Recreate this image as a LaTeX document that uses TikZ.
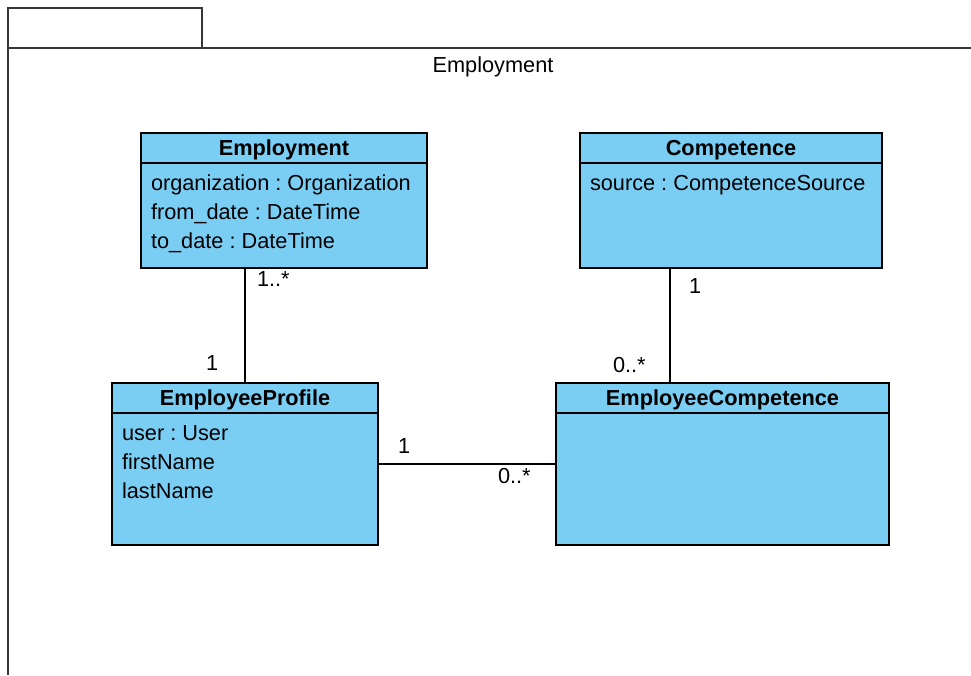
\documentclass[tikz,border=0pt]{standalone}
\usepackage{fontspec}
\setmainfont{Liberation Sans}
\usetikzlibrary{positioning}
\definecolor{classfill}{RGB}{122,206,243}
\definecolor{framegray}{RGB}{55,55,55}
\frenchspacing

\begin{document}
\begin{tikzpicture}[x=0.75pt,y=0.75pt,yscale=-1,xscale=1,
  every node/.style={font=\fontsize{16.3}{19}\selectfont,inner sep=0pt,outer sep=0pt},
  classbox/.style={draw=black,fill=classfill,line width=1.2pt,anchor=north west},
  classname/.style={font=\fontsize{16.3}{19}\selectfont\bfseries,anchor=base},
  attr/.style={anchor=base west},
  mult/.style={anchor=base west},
  assoc/.style={line width=1.2pt}]
\useasboundingbox (0,0) rectangle (971,675);

%Shape: Package frame
\draw [framegray,line width=1.5pt] (8,8) rectangle (202,48);
\draw [framegray,line width=1.5pt] (8,675) -- (8,48) -- (971,48);
% Text Node
\node [anchor=base] (pkg) at (493,72) {Employment};

%Shape: Class Employment
\node [classbox,minimum width=214.5pt,minimum height=101.25pt] (emp) at (141,133) {};
\draw [line width=1.2pt] ([yshift=22.5pt]emp.north west) -- ([yshift=22.5pt]emp.north east);
\node [classname] (emp-name) at (284,155) {Employment};
\node [attr] (emp-a1) at (151,190) {organization : Organization};
\node [attr] (emp-a2) at (151,219) {from\_date : DateTime};
\node [attr] (emp-a3) at (151,248) {to\_date : DateTime};

%Shape: Class Competence
\node [classbox,minimum width=226.5pt,minimum height=101.25pt] (comp) at (580,133) {};
\draw [line width=1.2pt] ([yshift=22.5pt]comp.north west) -- ([yshift=22.5pt]comp.north east);
\node [classname] (comp-name) at (731,155) {Competence};
\node [attr] (comp-a1) at (590,190) {source : CompetenceSource};

%Shape: Class EmployeeProfile
\node [classbox,minimum width=199.5pt,minimum height=121.5pt] (prof) at (112,383) {};
\draw [line width=1.2pt] ([yshift=22.5pt]prof.north west) -- ([yshift=22.5pt]prof.north east);
\node [classname] (prof-name) at (245,405) {EmployeeProfile};
\node [attr] (prof-a1) at (122,440) {user : User};
\node [attr] (prof-a2) at (122,469) {firstName};
\node [attr] (prof-a3) at (122,498) {lastName};

%Shape: Class EmployeeCompetence
\node [classbox,minimum width=249.75pt,minimum height=121.5pt] (ecomp) at (556,383) {};
\draw [line width=1.2pt] ([yshift=22.5pt]ecomp.north west) -- ([yshift=22.5pt]ecomp.north east);
\node [classname] (ecomp-name) at (722.5,405) {EmployeeCompetence};

%Straight Lines: associations
\draw [assoc] (prof.north) -- (prof.north |- emp.south);
\draw [assoc] ([xshift=-39.375pt]ecomp.north) -- ([xshift=-39.375pt]ecomp.north |- comp.south);
\draw [assoc] (prof.east) -- (ecomp.west);

% Text Node
\node [mult] (m1) at (257,286) {1..*};
% Text Node
\node [mult] (m2) at (206,370) {1};
% Text Node
\node [mult] (m3) at (689,293) {1};
% Text Node
\node [mult] (m4) at (613,372) {0..*};
% Text Node
\node [mult] (m5) at (398,453) {1};
% Text Node
\node [mult] (m6) at (498,483) {0..*};

\end{tikzpicture}
\end{document}
